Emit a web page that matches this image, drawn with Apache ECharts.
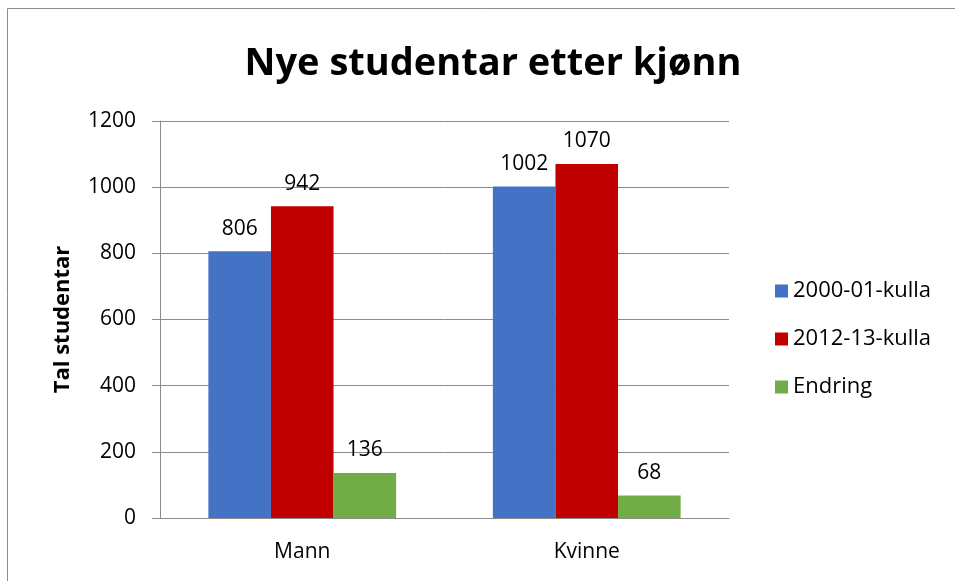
<!DOCTYPE html>
<html><head><meta charset="utf-8">
<script src="https://cdn.jsdelivr.net/npm/echarts@6/dist/echarts.min.js"></script>
<style>html,body{margin:0;padding:0;background:#fff}#c{width:955px;height:581px}</style>
</head><body><div id="c"></div>
<script>
const categories = ['Mann', 'Kvinne'];
const seriesNames = ['2000-01-kulla', '2012-13-kulla', 'Endring'];
const s2000 = [806, 1002];
const s2012 = [942, 1070];
const endring = [136, 68];
const yTicks = [0, 200, 400, 600, 800, 1000, 1200];
const colors = ['#4472C4', '#C00000', '#70AD47'];
const font = "'Open Sans', 'Liberation Sans', sans-serif";
const chart = echarts.init(document.getElementById('c'));
const data = [s2000, s2012, endring];
chart.setOption({
  animation: false,
  graphic: [{type:'rect', shape:{x:7.5,y:8.5,width:960,height:600}, style:{fill:'none', stroke:'#8c8c8c', lineWidth:1}}],
  title: {text:'Nye studentar etter kjønn', left: 488, top: 40, textAlign:'center',
    textStyle:{fontFamily:font, fontSize:38, fontWeight:'bold', color:'#000'}},
  legend: {orient:'vertical', left: 770, top: 275, itemGap: 26, itemWidth: 13, itemHeight: 13,
    icon:'rect', textStyle:{fontFamily:font, fontSize:22, color:'#000'}, data: seriesNames},
  grid: {left:160, right:226, top:121, bottom:63},
  xAxis: {type:'category', data: categories,
    axisLine:{lineStyle:{color:'#8c8c8c'}}, axisTick:{show:false},
    axisLabel:{fontFamily:font, fontSize:21, color:'#000', margin:24}},
  yAxis: {type:'value', min: yTicks[0], max: yTicks[yTicks.length-1], interval: 200,
    name:'Tal studentar', nameLocation:'middle', nameGap: 86,
    nameTextStyle:{fontFamily:font, fontSize:22, fontWeight:'bold', color:'#000'},
    axisLine:{show:true, lineStyle:{color:'#8c8c8c'}},
    axisTick:{show:true, inside:false, length:8, lineStyle:{color:'#8c8c8c'}},
    splitLine:{lineStyle:{color:'#8c8c8c'}},
    axisLabel:{fontFamily:font, fontSize:21, color:'#000', margin:24, formatter: v => String(v)}},
  series: seriesNames.map((n,i)=>({name:n, type:'bar', data:data[i], barGap:'0%', barCategoryGap:'34%',
    itemStyle:{color:colors[i]},
    label:{show:true, position:'top', distance:12, fontFamily:font, fontSize:21, color:'#000'}}))
});
</script></body></html>
